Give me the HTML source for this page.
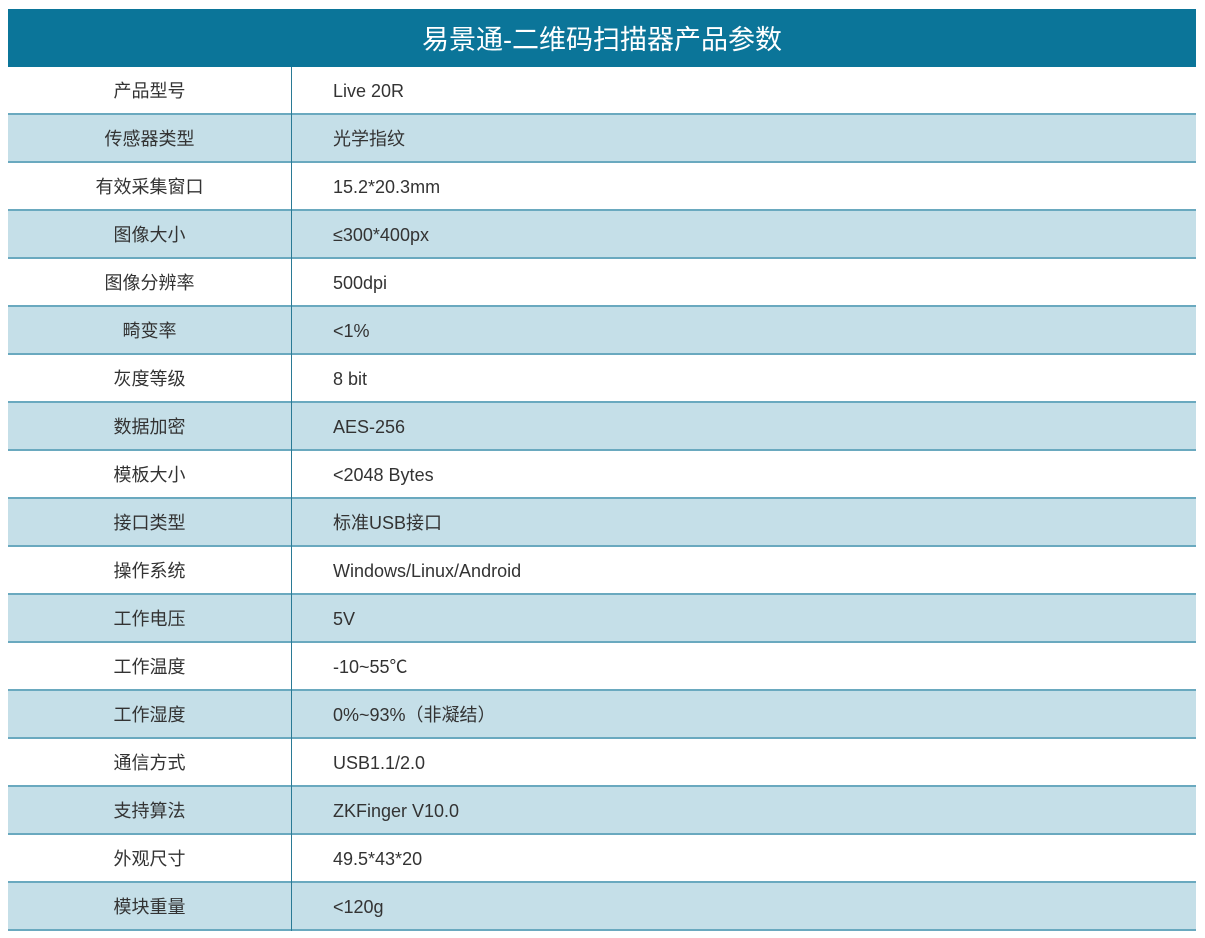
<!DOCTYPE html>
<html><head><meta charset="utf-8"><style>
body{margin:0;background:#fff;font-family:"Liberation Sans","Noto Sans CJK SC",sans-serif;}
#h{position:absolute;left:8px;top:9px;width:1188px;height:58px;background:#0b7599;color:#fff;font-size:27px;text-align:center;line-height:62px;}
.r{position:absolute;left:8px;width:1188px;height:46px;border-bottom:2px solid #6aa9bf;font-size:18px;color:#333;line-height:49px;}
.r.s{background:#c5dfe8;}
.a{position:absolute;left:0;width:283px;text-align:center;}
.b{position:absolute;left:325px;}
#v{position:absolute;left:291px;top:67px;width:1px;height:864px;background:#2a7a95;}
</style></head><body>
<div id="h">易景通-二维码扫描器产品参数</div>
<div class="r" style="top:67px"><span class="a">产品型号</span><span class="b">Live 20R</span></div>
<div class="r s" style="top:115px"><span class="a">传感器类型</span><span class="b">光学指纹</span></div>
<div class="r" style="top:163px"><span class="a">有效采集窗口</span><span class="b">15.2*20.3mm</span></div>
<div class="r s" style="top:211px"><span class="a">图像大小</span><span class="b">≤300*400px</span></div>
<div class="r" style="top:259px"><span class="a">图像分辨率</span><span class="b">500dpi</span></div>
<div class="r s" style="top:307px"><span class="a">畸变率</span><span class="b">&lt;1%</span></div>
<div class="r" style="top:355px"><span class="a">灰度等级</span><span class="b">8 bit</span></div>
<div class="r s" style="top:403px"><span class="a">数据加密</span><span class="b">AES-256</span></div>
<div class="r" style="top:451px"><span class="a">模板大小</span><span class="b">&lt;2048 Bytes</span></div>
<div class="r s" style="top:499px"><span class="a">接口类型</span><span class="b">标准USB接口</span></div>
<div class="r" style="top:547px"><span class="a">操作系统</span><span class="b">Windows/Linux/Android</span></div>
<div class="r s" style="top:595px"><span class="a">工作电压</span><span class="b">5V</span></div>
<div class="r" style="top:643px"><span class="a">工作温度</span><span class="b">-10~55℃</span></div>
<div class="r s" style="top:691px"><span class="a">工作湿度</span><span class="b">0%~93%（非凝结）</span></div>
<div class="r" style="top:739px"><span class="a">通信方式</span><span class="b">USB1.1/2.0</span></div>
<div class="r s" style="top:787px"><span class="a">支持算法</span><span class="b">ZKFinger V10.0</span></div>
<div class="r" style="top:835px"><span class="a">外观尺寸</span><span class="b">49.5*43*20</span></div>
<div class="r s" style="top:883px"><span class="a">模块重量</span><span class="b">&lt;120g</span></div>
<div id="v"></div>
</body></html>
